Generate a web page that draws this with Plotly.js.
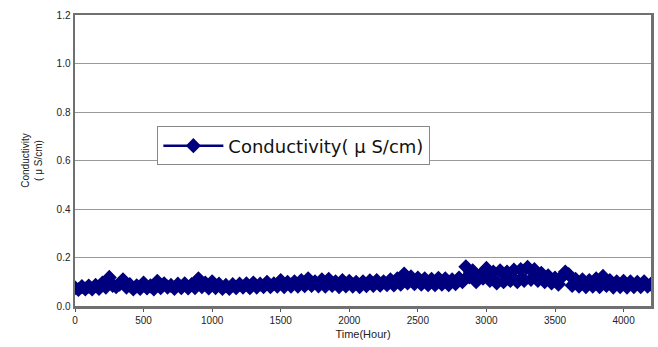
<!DOCTYPE html>
<html>
<head>
<meta charset="utf-8">
<script src="https://cdn.plot.ly/plotly-3.0.1.min.js"></script>
<style>html,body{margin:0;padding:0;background:#fff}#chart{width:658px;height:347px}</style>
</head>
<body>
<div id="chart"></div>
<script>
const timeHours = [
0,25,50,75,100,125,150,175,200,225,250,275,300,325,350,375,400,425,450,475,
500,525,550,575,600,625,650,675,700,725,750,775,800,825,850,875,900,925,950,975,
1000,1025,1050,1075,1100,1125,1150,1175,1200,1225,1250,1275,1300,1325,1350,1375,1400,1425,1450,1475,
1500,1525,1550,1575,1600,1625,1650,1675,1700,1725,1750,1775,1800,1825,1850,1875,1900,1925,1950,1975,
2000,2025,2050,2075,2100,2125,2150,2175,2200,2225,2250,2275,2300,2325,2350,2375,2400,2425,2450,2475,
2500,2525,2550,2575,2600,2625,2650,2675,2700,2725,2750,2775,2800,2825,2850,2875,2900,2925,2950,2975,
3000,3025,3050,3075,3100,3125,3150,3175,3200,3225,3250,3275,3300,3325,3350,3375,3400,3425,3450,3475,
3500,3525,3550,3575,3600,3625,3650,3675,3700,3725,3750,3775,3800,3825,3850,3875,3900,3925,3950,3975,
4000,4025,4050,4075,4100,4125,4150,4175,4200
];
const conductivity = [
0.075,0.068,0.080,0.070, 0.082,0.070,0.085,0.072, 0.095,0.078,0.118,0.085, 0.080,0.090,0.108,0.078, 0.088,0.070,0.083,0.072,
0.095,0.074,0.083,0.070, 0.102,0.075,0.092,0.078, 0.085,0.072,0.090,0.075, 0.092,0.074,0.088,0.076, 0.112,0.080,0.095,0.074,
0.100,0.076,0.090,0.072, 0.085,0.072,0.088,0.075, 0.090,0.078,0.092,0.075, 0.095,0.078,0.090,0.080, 0.098,0.080,0.092,0.082,
0.105,0.080,0.098,0.082, 0.100,0.082,0.105,0.084, 0.112,0.085,0.100,0.083, 0.108,0.082,0.110,0.085, 0.100,0.080,0.105,0.083,
0.102,0.082,0.098,0.080, 0.100,0.084,0.104,0.085, 0.105,0.086,0.100,0.088, 0.108,0.087,0.112,0.090, 0.132,0.095,0.120,0.092,
0.115,0.090,0.112,0.088, 0.110,0.088,0.114,0.090, 0.112,0.088,0.108,0.092, 0.115,0.100,0.162,0.120, 0.145,0.100,0.125,0.115,
0.155,0.105,0.140,0.095, 0.145,0.100,0.140,0.105, 0.148,0.100,0.150,0.105, 0.160,0.110,0.150,0.105, 0.135,0.100,0.125,0.095,
0.115,0.090,0.120,0.140, 0.130,0.085,0.110,0.082, 0.108,0.080,0.105,0.082, 0.112,0.080,0.122,0.085, 0.105,0.078,0.100,0.080,
0.102,0.078,0.100,0.080, 0.098,0.080,0.100,0.082, 0.090
];
const xTicks = [0,500,1000,1500,2000,2500,3000,3500,4000];
const yTicks = [0.0,0.2,0.4,0.6,0.8,1.0,1.2];
const seriesName = 'Conductivity( \u03BC S/cm)';

const navy = '#00007f';
const trace = {
  x: timeHours, y: conductivity, type: 'scatter', mode: 'lines+markers',
  name: seriesName,
  line: {color: navy, width: 2.5},
  marker: {symbol: 'diamond', size: 10, color: navy, line: {color: navy, width: 1.5}}
};
const layout = {
  width: 658, height: 347,
  margin: {l: 75, r: 7, t: 15, b: 41},
  paper_bgcolor: '#fff', plot_bgcolor: '#fff',
  font: {family: 'Liberation Sans, Arial, sans-serif', size: 10, color: '#222'},
  showlegend: true,
  legend: {
    x: 0.143, y: 0.617, xanchor: 'left', yanchor: 'top',
    bgcolor: '#fff', bordercolor: '#888', borderwidth: 1,
    font: {family: 'DejaVu Sans, sans-serif', size: 18, color: '#111'},
    itemwidth: 60
  },
  xaxis: {
    range: [0, 4200], tickvals: xTicks, ticktext: xTicks.map(String),
    showgrid: false, zeroline: false,
    showline: true, linecolor: '#707070', linewidth: 2.5, mirror: true,
    ticks: 'outside', ticklen: 3, tickcolor: '#555',
    tickfont: {size: 10, color: '#222'},
    title: {text: 'Time(Hour)', font: {size: 11, color: '#222'}, standoff: 6}
  },
  yaxis: {
    range: [0, 1.2], tickvals: yTicks, ticktext: yTicks.map(v => v.toFixed(1)),
    showgrid: true, gridcolor: '#9a9a9a', gridwidth: 1, zeroline: false,
    showline: true, linecolor: '#707070', linewidth: 2.5, mirror: true,
    ticks: '', tickfont: {size: 10, color: '#222'},
    title: {text: 'Conductivity<br>( \u03BC S/cm)', font: {size: 10, color: '#222'}, standoff: 12}
  }
};
Plotly.newPlot('chart', [trace], layout, {displayModeBar: false, staticPlot: true});
</script>
</body>
</html>
